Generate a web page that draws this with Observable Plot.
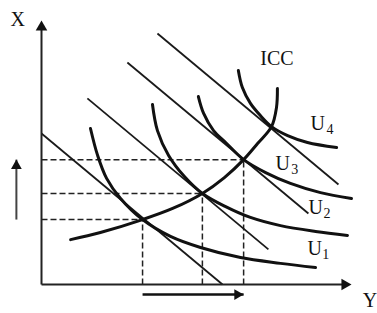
<!DOCTYPE html>
<html>
<head>
<meta charset="utf-8">
<script src="https://cdn.jsdelivr.net/npm/d3@7"></script>
<script src="https://cdn.jsdelivr.net/npm/@observablehq/plot@0.6"></script>
<style>
  html, body { margin: 0; padding: 0; background: #fff; }
  #chart svg { display: block; }
</style>
</head>
<body>
<div id="chart"></div>
<script>
// Budget lines (start and end points), units: good Y on x, good X on y, 0..100
const budgetName = ["B1", "B2", "B3", "B4"];
const budgetX0 = [0, 14.8, 27.7, 37.4];
const budgetY0 = [57.2, 70.5, 84.1, 95.1];
const budgetX1 = [58.4, 73.2, 86.1, 95.8];
const budgetY1 = [0, 13.3, 26.9, 37.9];

// Optimal (tangency) points
const optX = [32.6, 51.9, 65.2];
const optY = [24.6, 34.5, 47.3];

// Indifference curves
const u1 = [[15.8,59.1],[18.1,48.9],[21.0,40.2],[25.5,32.6],[32.6,24.6],[41.6,18.2],[51.3,14.0],[64.2,10.2],[77.1,8.0],[88.4,6.4]];
const u2 = [[35.8,68.2],[37.4,58.3],[41.0,48.9],[46.1,40.9],[51.9,34.5],[59.4,29.5],[67.4,25.4],[77.1,22.3],[88.4,20.1],[98.7,18.6]];
const u3 = [[50.6,71.2],[52.3,64.8],[55.5,58.3],[59.4,53.8],[65.2,47.3],[72.3,42.4],[80.3,38.3],[90.0,34.8],[100,32.6]];
const u4 = [[63.5,81.1],[64.8,74.6],[67.4,68.6],[70.6,64.0],[74.2,59.8],[79.4,56.4],[85.8,53.8],[95.2,51.9]];

// Income-consumption curve
const icc = [[9.4,17.0],[19.0,19.7],[32.6,24.6],[42.3,28.8],[51.9,34.5],[59.0,40.5],[65.2,47.3],[69.7,53.4],[74.2,59.8],[75.8,67.0],[76.1,74.2]];

// Labels
const curveNames = ["U", "U", "U", "U"];
const curveSubs = ["1", "2", "3", "4"];
const curveLabelX = [85.8, 86.1, 75.5, 86.8];
const curveLabelY = [16.7, 32.2, 48.9, 64.0];
const subLabelX = [90.6, 91.0, 80.6, 91.9];
const subLabelY = [13.3, 28.8, 45.5, 60.6];
const axisLabels = ["X", "Y"];
const axisLabelX = [-10.0, 103.6];
const axisLabelY = [103.4, -3.0];
const iccLabel = "ICC";
const iccLabelX = 70.6;
const iccLabelY = 88.6;

// Change indicators
const arrowLeftX = -8.1;
const arrowBottomY = -3.8;

// ---- build tables ----
const budgets = budgetName.map((n, i) => ({n, x1: budgetX0[i], y1: budgetY0[i], x2: budgetX1[i], y2: budgetY1[i]}));
const opt = optX.map((x, i) => ({x, y: optY[i]}));
const ucurves = [["U1", u1], ["U2", u2], ["U3", u3], ["U4", u4]]
  .flatMap(([name, pts]) => pts.map(([x, y]) => ({name, x, y})));
const iccRows = icc.map(([x, y]) => ({x, y}));
const uLabels = curveNames.map((t, i) => ({t, x: curveLabelX[i], y: curveLabelY[i]}));
const uSubs = curveSubs.map((t, i) => ({t, x: subLabelX[i], y: subLabelY[i]}));
const aLabels = axisLabels.map((t, i) => ({t, x: axisLabelX[i], y: axisLabelY[i]}));

const ink = "#111";
const serif = "'Liberation Serif', 'Times New Roman', serif";

const chart = Plot.plot({
  width: 377,
  height: 313,
  marginLeft: 41,
  marginRight: 26,
  marginTop: 20,
  marginBottom: 29,
  x: {domain: [0, 100], axis: null},
  y: {domain: [0, 100], axis: null},
  style: {background: "#fff", overflow: "visible"},
  marks: [
    // dashed guides
    Plot.link(opt, {x1: 0, y1: "y", x2: "x", y2: "y", stroke: "#222", strokeWidth: 1.5, strokeDasharray: "6,3"}),
    Plot.link(opt, {x1: "x", y1: 0, x2: "x", y2: "y", stroke: "#222", strokeWidth: 1.5, strokeDasharray: "6,3"}),
    // budget lines
    Plot.link(budgets, {x1: "x1", y1: "y1", x2: "x2", y2: "y2", stroke: "#1a1a1a", strokeWidth: 1.8}),
    // indifference curves
    Plot.line(ucurves, {x: "x", y: "y", z: "name", curve: "catmull-rom", stroke: ink, strokeWidth: 3}),
    // ICC
    Plot.line(iccRows, {x: "x", y: "y", curve: "catmull-rom", stroke: ink, strokeWidth: 3}),
    // axes
    Plot.link([0], {x1: 0, y1: 0, x2: 0, y2: 97, stroke: "#222", strokeWidth: 2}),
    Plot.link([0], {x1: 0, y1: 0, x2: 97.5, y2: 0, stroke: "#222", strokeWidth: 2}),
    Plot.dot([0], {x: 0, y: 100, symbol: "triangle", r: 4.3, fill: ink, stroke: "none", dy: 6.7}),
    Plot.dot([0], {x: 100, y: 0, symbol: "triangle", r: 4.3, fill: ink, stroke: "none", rotate: 90, dx: -6.7}),
    // change indicator arrows
    Plot.link([0], {x1: arrowLeftX, y1: optY[0], x2: arrowLeftX, y2: optY[2], stroke: "#444", strokeWidth: 2}),
    Plot.dot([0], {x: arrowLeftX, y: optY[2], symbol: "triangle", r: 4.0, fill: ink, stroke: "none", dy: 6.2}),
    Plot.link([0], {x1: optX[0], y1: arrowBottomY, x2: optX[2], y2: arrowBottomY, stroke: ink, strokeWidth: 2.6}),
    Plot.dot([0], {x: optX[2], y: arrowBottomY, symbol: "triangle", r: 4.0, fill: ink, stroke: "none", rotate: 90, dx: -6.2}),
    // labels
    Plot.text(aLabels, {x: "x", y: "y", text: "t", textAnchor: "start", lineAnchor: "top", fontSize: 20, fontFamily: serif, fill: ink}),
    Plot.text([iccLabel], {x: iccLabelX, y: iccLabelY, text: d => d, textAnchor: "start", lineAnchor: "top", fontSize: 20, fontFamily: serif, fill: ink}),
    Plot.text(uLabels, {x: "x", y: "y", text: "t", textAnchor: "start", lineAnchor: "top", fontSize: 20, fontFamily: serif, fill: ink}),
    Plot.text(uSubs, {x: "x", y: "y", text: "t", textAnchor: "start", lineAnchor: "top", fontSize: 14, fontFamily: serif, fill: ink})
  ]
});
document.getElementById("chart").appendChild(chart);
</script>
</body>
</html>
